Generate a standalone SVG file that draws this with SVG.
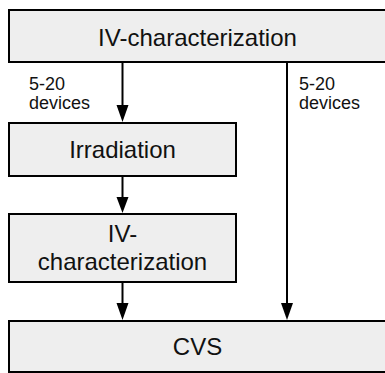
<svg xmlns="http://www.w3.org/2000/svg" width="385" height="373" viewBox="0 0 385 373">
<style>
.box{fill:#eeeeee;stroke:#000;stroke-width:2}
.t{font-family:"Liberation Sans",Arial,sans-serif;font-size:24px;fill:#111;text-anchor:middle}
.l{font-family:"Liberation Sans",Arial,sans-serif;font-size:18px;fill:#111}
.c{stroke:#000;stroke-width:2;fill:none;marker-end:url(#ah)}
</style>
<defs>
<marker id="ah" markerUnits="userSpaceOnUse" markerWidth="12" markerHeight="18" refX="6" refY="17" orient="auto-start-reverse" viewBox="0 0 12 18">
<path d="M0,0 L12,0 L6,17 Z" fill="#000" transform="rotate(-90 6 9)"/>
</marker>
</defs>
<rect width="385" height="373" fill="#fff"/>
<g id="n1"><rect class="box" x="9" y="10" width="378" height="52"/><text class="t" x="197.5" y="46">IV-characterization</text></g>
<g id="n2"><rect class="box" x="9" y="123" width="227" height="53"/><text class="t" x="122.5" y="158">Irradiation</text></g>
<g id="n3"><rect class="box" x="9" y="214" width="227" height="68"/><text class="t" x="122.5" y="242">IV-</text><text class="t" x="122.5" y="270">characterization</text></g>
<g id="n4"><rect class="box" x="9" y="321" width="378" height="51"/><text class="t" x="197.5" y="355">CVS</text></g>
<g id="connectors">
<path d="M122.5,63 V105" stroke="#000" stroke-width="2"/><path d="M116.5,105 L128.5,105 L122.5,122 Z"/>
<path d="M122.5,177 V197" stroke="#000" stroke-width="2"/><path d="M116.5,197 L128.5,197 L122.5,213 Z"/>
<path d="M122.5,283 V303" stroke="#000" stroke-width="2"/><path d="M116.5,303 L128.5,303 L122.5,320 Z"/>
<path d="M287,63 V303" stroke="#000" stroke-width="2"/><path d="M281,303 L293,303 L287,320 Z"/>
</g>
<g id="labels">
<text class="l" x="29" y="90">5-20</text><text class="l" x="29" y="109">devices</text>
<text class="l" x="299" y="90">5-20</text><text class="l" x="299" y="109">devices</text>
</g>
</svg>
